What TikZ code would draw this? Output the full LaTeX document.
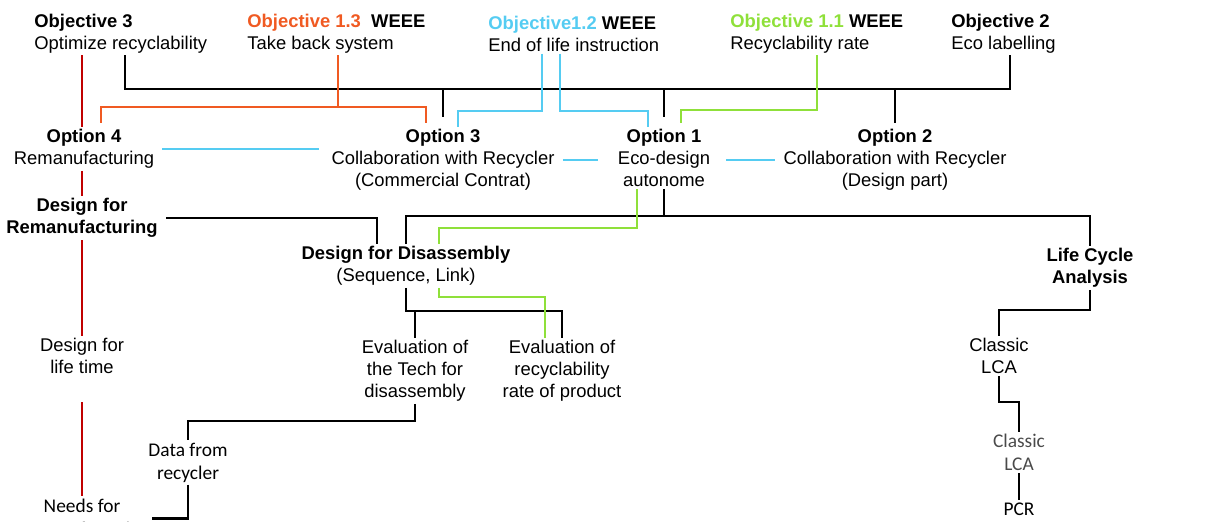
\documentclass[tikz,border=0pt]{standalone}
\usepackage{fontspec}
\setmainfont{Liberation Sans}
\newfontfamily\calfont{Carlito}
\usepackage{tikz}
\usetikzlibrary{
  arrows.meta,
  positioning,
  calc
}
\definecolor{ecoOrange}{HTML}{F05A22}
\definecolor{ecoCyan}{HTML}{55CCF2}
\definecolor{ecoGreen}{HTML}{8FE03A}
\definecolor{ecoRed}{HTML}{C00000}
\definecolor{ecoGrey}{HTML}{4A4A4A}
\tikzset{
  econode/.style={inner sep=1pt, align=center, font=\fontsize{9.2}{11}\selectfont},
  objnode/.style={econode, align=left, anchor=west},
  optnode/.style={econode, anchor=north},
  boldnode/.style={econode, font=\fontsize{9.2}{11}\selectfont\bfseries},
  calnode/.style={inner sep=1pt, align=center, font=\calfont\fontsize{9.7}{11.5}\selectfont},
  link/.style={line width=1.3pt, black},
  orlink/.style={line width=1pt, ecoOrange},
  cylink/.style={line width=1pt, ecoCyan},
  grlink/.style={line width=1pt, ecoGreen},
  rdlink/.style={line width=1pt, ecoRed}
}

\begin{document}
\begin{tikzpicture}[x=0.5pt, y=-0.5pt]
  \useasboundingbox (0,0) rectangle (1205,522);
  % objectives
  \node[objnode] (obj3) at (32,33.5) {\textbf{Objective 3}\\Optimize recyclability};
  \node[objnode] (obj13) at (245,33.5) {\textbf{\textcolor{ecoOrange}{Objective 1.3}\ \ WEEE}\\Take back system};
  \node[objnode] (obj12) at (486,33.5) {\textbf{\textcolor{ecoCyan}{Objective1.2} WEEE}\\End of life instruction};
  \node[objnode] (obj11) at (728,33.5) {\textbf{\textcolor{ecoGreen}{Objective 1.1} WEEE}\\Recyclability rate};
  \node[objnode] (obj2) at (949,33.5) {\textbf{Objective 2}\\Eco labelling};
  % options
  \node[optnode] (opt4) at (84,127) {\textbf{Option 4}\\Remanufacturing};
  \node[optnode] (opt3) at (443,127) {\textbf{Option 3}\\Collaboration with Recycler\\(Commercial Contrat)};
  \node[optnode] (opt1) at (664,127) {\textbf{Option 1}\\Eco-design\\autonome};
  \node[optnode] (opt2) at (895,127) {\textbf{Option 2}\\Collaboration with Recycler\\(Design part)};
  % design level
  \node[boldnode] (dfr) at (82,218) {Design for\\Remanufacturing};
  \node[econode] (dfd) at (406,266) {\textbf{Design for Disassembly}\\(Sequence, Link)};
  \node[boldnode] (lca) at (1090,268) {Life Cycle\\Analysis};
  \node[econode] (dlife) at (82,356) {Design for\\life time};
  \node[econode] (evtech) at (415,371) {Evaluation of\\the Tech for\\disassembly};
  \node[econode] (evrate) at (562,371) {Evaluation of\\recyclability\\rate of product};
  \node[econode] (clca) at (999,356) {Classic\\LCA};
  \node[calnode] (data) at (188,462.5) {Data from\\recycler};
  \node[calnode, text=ecoGrey] (clca2) at (1019,452.5) {Classic\\LCA};
  \node[calnode] (pcr) at (1019,509) {PCR};
  \node[calnode] (needs) at (82,518.5) {Needs for\\Remanufacturing};

  % top bus
  \coordinate (busL) at (125,89);
  \coordinate (busR) at (1010,89);
  \draw[link] (busL |- obj3.south) -- (busL) -- (busR) -- (busR |- obj2.south);
  \draw[link, shorten >=5pt] (opt3.north |- busL) -- (opt3.north);
  \draw[link, shorten >=5pt] (opt1.north |- busL) -- (opt1.north);
  \draw[link, shorten >=2pt] (opt2.north |- busL) -- (opt2.north);

  % orange
  \coordinate (orJ) at (338,107);
  \coordinate (or4) at (101,107);
  \coordinate (or3) at (426,107);
  \draw[orlink] (orJ |- obj13.south) -- (orJ);
  \draw[orlink, shorten <=2pt, shorten >=2pt] (or4 |- opt4.north) -- (or4) -- (or3) -- (or3 |- opt3.north);

  % cyan
  \coordinate (cyA) at (542,111);
  \coordinate (cyB) at (560,111);
  \coordinate (cy3) at (458,111);
  \coordinate (cy1) at (648,111);
  \draw[cylink] (cyA |- obj12.south) -- (cyA) -- (cy3) -- (cy3 |- opt3.north);
  \draw[cylink] (cyB |- obj12.south) -- (cyB) -- (cy1) -- (cy1 |- opt1.north);
  \draw[cylink, shorten <=3pt, shorten >=5pt] (opt4.east) -- (opt4.east -| opt3.west);
  \draw[cylink, shorten <=3pt, shorten >=9pt] (opt3.east) -- (opt3.east -| opt1.west);
  \draw[cylink, shorten <=7pt, shorten >=3pt] (opt3.east -| opt1.east) -- (opt3.east -| opt2.west);

  % green
  \coordinate (gr) at (817,110);
  \coordinate (gr1) at (681,110);
  \draw[grlink, shorten >=2pt] (gr |- obj11.south) -- (gr) -- (gr1) -- (gr1 |- opt1.north);

  % red column
  \draw[rdlink] (dfr.north |- obj3.south) -- (dfr.north |- opt4.north);
  \draw[rdlink] (dfr.north |- opt4.south) -- (dfr.north);
  \draw[rdlink] (dfr.south) -- (dlife.north);
  \draw[rdlink, shorten <=13pt] (dlife.south) -- (needs.north);

  % design level
  \coordinate (bus2) at (664,216);
  \draw[link] (opt1.south) -- (bus2);
  \draw[link] (dfd.north) |- (bus2) -| (lca.north);
  \draw[link, shorten <=3pt] (dfr.east) -| ($(dfd.north)+(-29,0)$);
  \coordinate (grA) at (637,228);
  \coordinate (grB) at (439,228);
  \draw[grlink] (grA |- opt1.south) -- (grA) -- (grB) -- (grB |- dfd.north);

  % disassembly branch
  \coordinate (bus3) at (406,311);
  \draw[link] (dfd.south) |- (evrate.north |- bus3) -- (evrate.north);
  \draw[link] (evtech.north |- bus3) -- (evtech.north);
  \coordinate (grC) at (439,297);
  \coordinate (grD) at (545,297);
  \draw[grlink] (grC |- dfd.south) -- (grC) -- (grD) -- (grD |- evrate.north);
  \coordinate (bus4) at (188,421);
  \draw[link] (evtech.south) |- (bus4) -- (data.north);
  \draw[link] (data.south) |- (needs.east);

  % lca branch
  \coordinate (bus5) at (999,310);
  \draw[link] (lca.south) |- (bus5) -- (clca.north);
  \coordinate (bus6) at (1019,402);
  \draw[link] (clca.south) |- (bus6) -- (clca2.north);
  \draw[link] (clca2.south) -- (pcr.north);
\end{tikzpicture}
\end{document}
